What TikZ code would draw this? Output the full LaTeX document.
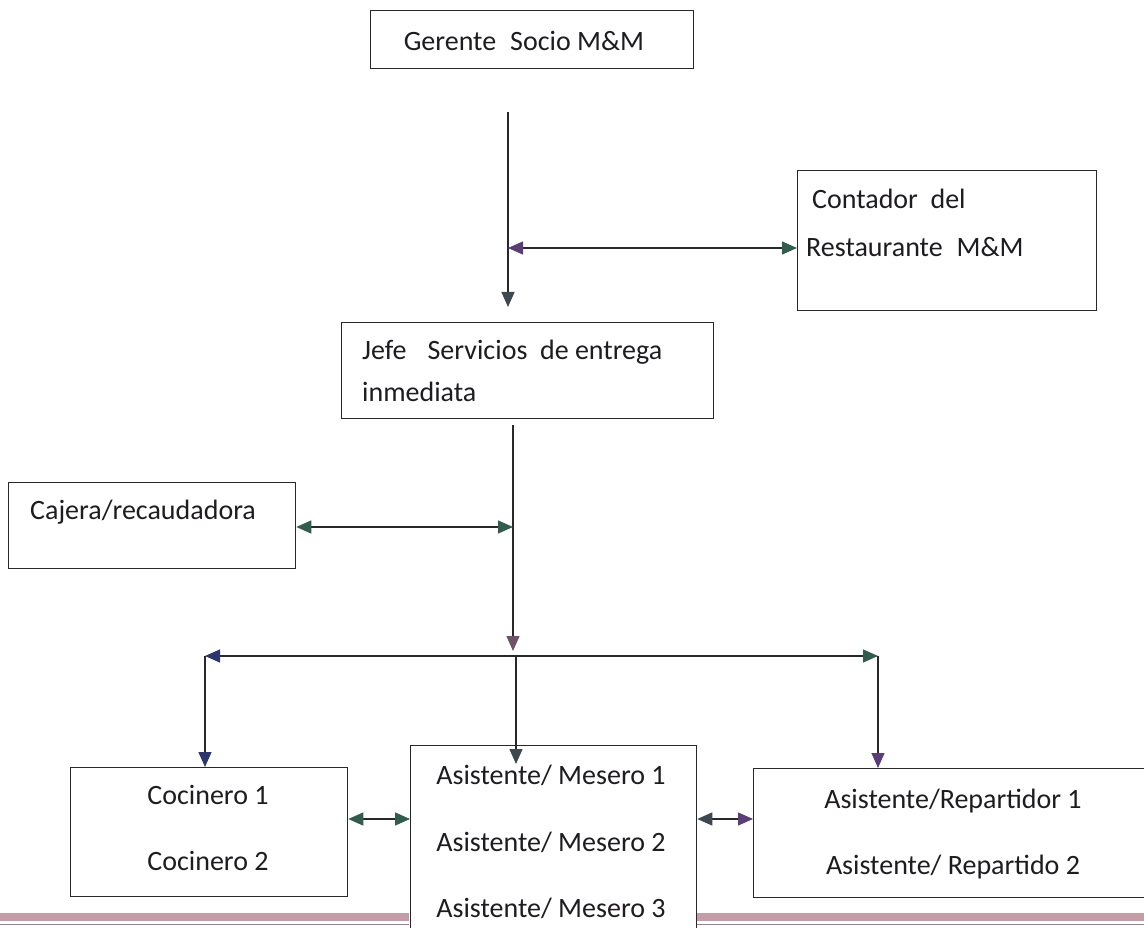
\documentclass[tikz,border=0pt]{standalone}
\usepackage{fontspec}
\setmainfont{Carlito}
\usetikzlibrary{arrows.meta}

\definecolor{ink}{RGB}{40,40,44}
\definecolor{txt}{RGB}{30,28,32}
\definecolor{tipgreen}{RGB}{50,92,76}
\definecolor{tippurple}{RGB}{92,62,118}
\definecolor{tipblue}{RGB}{45,55,108}
\definecolor{tipmauve}{RGB}{112,82,104}
\definecolor{tipslate}{RGB}{62,72,80}
\definecolor{bandpink}{RGB}{194,156,166}
\definecolor{bandline}{RGB}{150,132,140}

\tikzset{
  box/.style={draw=ink, line width=1.3pt, rectangle, inner sep=0pt, anchor=north west},
  lbl/.style={font=\fontsize{28}{34}\selectfont, text=txt, inner sep=0pt},
  link/.style={draw=ink, line width=1.3pt},
  TipG/.tip={Triangle[length=15pt,width=13pt,color=tipgreen]},
  TipP/.tip={Triangle[length=15pt,width=13pt,color=tippurple]},
  TipB/.tip={Triangle[length=15pt,width=13pt,color=tipblue]},
  TipM/.tip={Triangle[length=15pt,width=13pt,color=tipmauve]},
  TipS/.tip={Triangle[length=15pt,width=13pt,color=tipslate]},
}

\begin{document}
\begin{tikzpicture}[x=1pt,y=-1pt]
\useasboundingbox (0,0) rectangle (1144,928);
\fill[white] (0,0) rectangle (1144,928);

% page rule at the foot
\fill[bandpink] (0,913) rectangle (409,921);
\fill[bandpink] (697,913) rectangle (1144,921);
\draw[bandline, line width=1pt] (0,924.5) -- (409,924.5) (697,924.5) -- (1144,924.5);

% boxes
\node[box, minimum width=323pt, minimum height=58pt] (gerente) at (370,10) {};
\node[lbl] (gerenteT) at (524,41) {Gerente\hspace{0.5em}Socio M\&M};

\node[box, minimum width=299pt, minimum height=140pt] (contador) at (797,170) {};
\node[lbl, anchor=west] (contadorA) at (812,199) {Contador\hspace{0.45em}del};
\node[lbl, anchor=west] (contadorB) at (806,247) {Restaurante\hspace{0.5em}M\&M};

\node[box, minimum width=372pt, minimum height=96pt] (jefe) at (341,322) {};
\node[lbl, anchor=west] (jefeA) at (362,352) {Jefe\hspace{0.75em}Servicios\hspace{0.45em}de entrega};
\node[lbl, anchor=west] (jefeB) at (362,392) {inmediata};

\node[box, minimum width=287pt, minimum height=86pt] (cajera) at (8,482) {};
\node[lbl, anchor=west] (cajeraT) at (30,512) {Cajera/recaudadora};

\node[box, minimum width=277pt, minimum height=129pt] (cocinero) at (70,767) {};
\node[lbl] (coc1) at (208,795) {Cocinero 1};
\node[lbl] (coc2) at (208,861) {Cocinero 2};

\node[box, minimum width=286pt, minimum height=200pt] (mesero) at (410,745) {};
\node[lbl] (mes1) at (551,775) {Asistente/ Mesero 1};
\node[lbl] (mes2) at (551,842) {Asistente/ Mesero 2};
\node[lbl] (mes3) at (551,908) {Asistente/ Mesero 3};

\node[box, minimum width=400pt, minimum height=129pt] (repartidor) at (753,768) {};
\node[lbl] (rep1) at (953,801) {Asistente/Repartidor 1};
\node[lbl] (rep2) at (953,867) {Asistente/ Repartido 2};

% connectors
\coordinate (topStart) at (508,112);
\coordinate (jefeIn) at (508,307);
\coordinate (ctrJoin) at (508,248);
\draw[link, -{TipS}] (topStart) -- (jefeIn);
\draw[link, {TipP}-{TipG}] (ctrJoin) -- (contador.west |- ctrJoin);

\coordinate (jefeOut) at (513,425);
\coordinate (busIn) at (513,651);
\coordinate (cajJoin) at (513,527);
\draw[link, -{TipM}] (jefeOut) -- (busIn);
\draw[link, {TipG}-{TipG}] (cajera.east |- cajJoin) -- (cajJoin);

\coordinate (busL) at (205,656);
\coordinate (busR) at (878,656);
\coordinate (busM) at (516,656);
\coordinate (meseroIn) at (516,764);
\draw[link, {TipB}-{TipG}] (busL) -- (busR);
\draw[link, -{TipB}] (busL) -- (busL |- cocinero.north);
\draw[link, -{TipS}] (busM) -- (meseroIn);
\draw[link, -{TipP}] (busR) -- (busR |- repartidor.north);

\coordinate (rowL) at (378,819);
\coordinate (rowR) at (724,819);
\draw[link, {TipG}-{TipG}] (cocinero.east |- rowL) -- (mesero.west |- rowL);
\draw[link, {TipS}-{TipP}] (mesero.east |- rowR) -- (repartidor.west |- rowR);
\end{tikzpicture}
\end{document}
